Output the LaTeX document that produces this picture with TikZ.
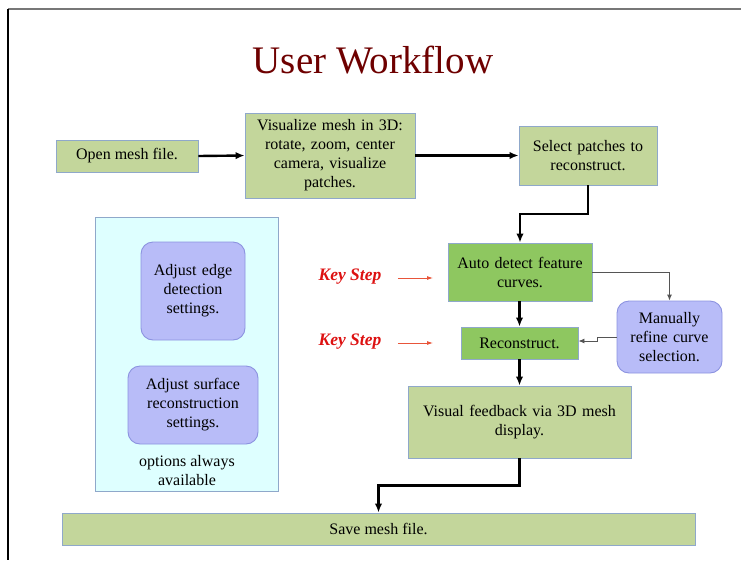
\documentclass[tikz,border=0pt]{standalone}
\usepackage{fontspec}
\setmainfont{Liberation Serif}
\usetikzlibrary{arrows.meta,positioning,calc}
\definecolor{olive}{HTML}{C3D69B}
\definecolor{leaf}{HTML}{8EC760}
\definecolor{edgeblue}{HTML}{8FA8CA}
\definecolor{lilac}{HTML}{B8BCF8}
\definecolor{lilacedge}{HTML}{8C93E0}
\definecolor{icefill}{HTML}{DEFFFF}
\definecolor{titlered}{HTML}{6E0000}
\definecolor{keyred}{HTML}{DD1111}
\definecolor{keyarrow}{HTML}{E8553A}
\definecolor{thinline}{HTML}{555555}
\definecolor{framegray}{HTML}{777777}

\begin{document}
\begin{tikzpicture}[
  x=1pt, y=-1pt,
  every node/.append style={font=\fontsize{16}{19}\selectfont},
  box/.style={draw=edgeblue, line width=0.9pt, fill=olive, align=center, inner sep=0pt},
  keybox/.style={box, fill=leaf},
  opt/.style={draw=lilacedge, line width=0.9pt, fill=lilac, rounded corners=12pt, align=center, inner sep=0pt},
  flow/.style={line width=2.4pt, -{Latex[length=9pt,width=7.5pt]}},
  side/.style={draw=thinline, line width=0.9pt, -{Latex[length=6pt,width=5pt]}},
  keylbl/.style={text=keyred, font=\fontsize{17.5}{20}\selectfont\bfseries\itshape},
  hint/.style={draw=keyarrow, line width=0.8pt, -{Latex[length=6pt,width=4pt]}},
]
\useasboundingbox (0,0) rectangle (741,560);

% Frame
\draw[framegray, line width=2.4pt] (8,9) -- (741,9);
\draw[line width=1.4pt] (8,9) -- (8,560);

% Title
\node[text=titlered, font=\fontsize{39}{44}\selectfont] (title) at (373,60) {User Workflow};

% Main chain
\node[box, minimum width=142pt, minimum height=32pt] (open) at (127,156) {Open mesh file.};
\node[box, minimum width=170pt, minimum height=85pt, text width=160pt] (vis) at (330,155.5)
  {Visualize mesh in 3D:\\rotate, zoom, center\\camera, visualize\\patches.};
\node[box, minimum width=138pt, minimum height=59pt, text width=130pt] (sel) at (588,155.5)
  {Select patches to\\reconstruct.};
\node[keybox, minimum width=144pt, minimum height=58pt, text width=136pt] (auto) at (520,272)
  {Auto detect feature\\curves.};
\node[keybox, minimum width=117pt, minimum height=32pt] (recon) at (519.5,343) {Reconstruct.};
\node[box, minimum width=223pt, minimum height=72pt, text width=215pt] (visfb) at (519.5,422)
  {Visual feedback via 3D mesh\\display.};
\node[box, minimum width=633pt, minimum height=32pt] (save) at (378.5,529) {Save mesh file.};

% Manual refinement
\node[opt, minimum width=105pt, minimum height=72pt, text width=100pt] (manual) at (669.5,337)
  {Manually\\refine curve\\selection.};

% Options panel
\node[draw=edgeblue, line width=0.9pt, fill=icefill, minimum width=183pt, minimum height=274pt] (panel) at (186.5,354) {};
\node[opt, minimum width=104pt, minimum height=98pt, text width=100pt] (edgeopt) at (193,291)
  {Adjust edge\\detection\\settings.};
\node[opt, minimum width=130pt, minimum height=78pt, text width=126pt] (surfopt) at (193,405)
  {Adjust surface\\reconstruction\\settings.};
\node[align=center] (always) at (187,471) {options always\\available};

% Key steps
\node[keylbl] (key1) at (350,277) {Key Step};
\node[keylbl] (key2) at (350,342) {Key Step};
\coordinate (key1end) at (433,278);
\coordinate (key2end) at (433,343);
\draw[hint] (key1.east |- key1end) ++(13,0) -- (key1end);
\draw[hint] (key2.east |- key2end) ++(13,0) -- (key2end);

% Connectors
\draw[flow] (open.east) -- (vis.west);
\draw[flow] (vis.east) -- (vis.east -| sel.west);
\draw[flow] (sel.south) |- ($(sel.south)!0.5!(auto.north)$) -| (auto.north);
\draw[flow] (auto.south -| recon.north) -- (recon.north);
\draw[flow] (recon.south) -- (visfb.north);
\draw[flow] (visfb.south) |- ($(visfb.south)!0.5!(save.north)$) -| (save.north);
\draw[side] (auto.east) -| (manual.north);
\draw[side] (manual.west) -- ++(-19,0) |- ([yshift=2pt]recon.east);

\end{tikzpicture}
\end{document}
